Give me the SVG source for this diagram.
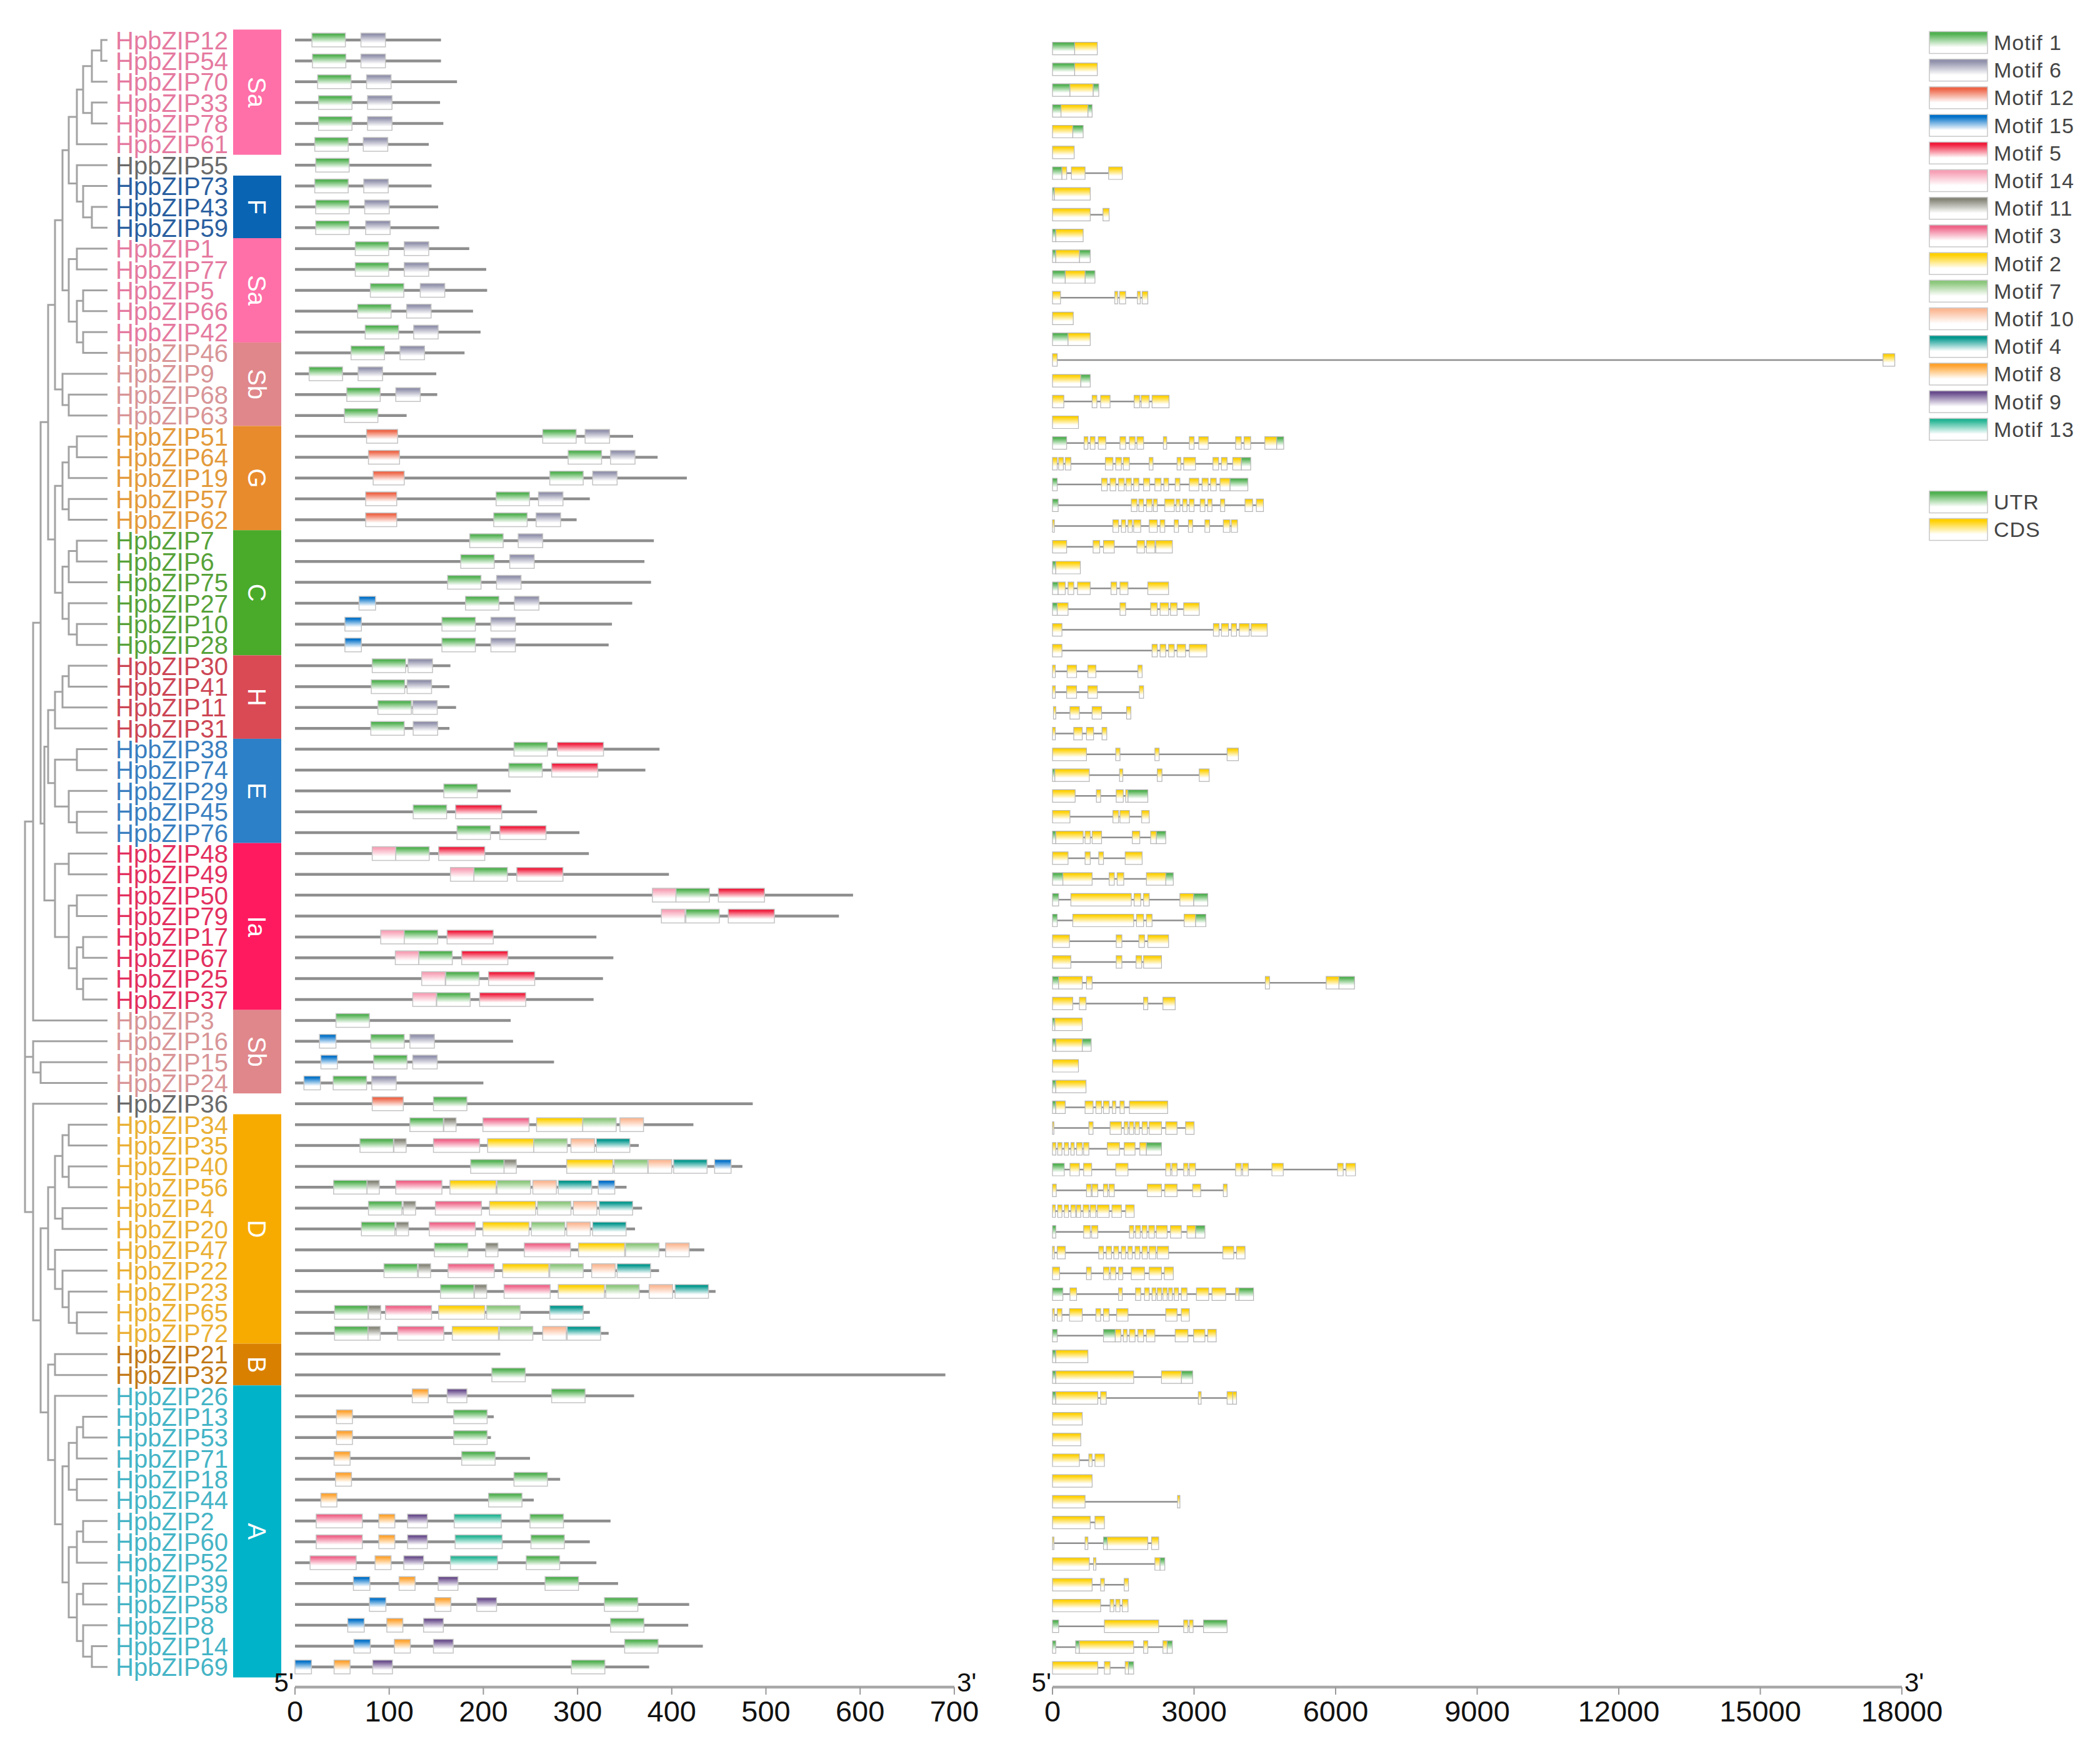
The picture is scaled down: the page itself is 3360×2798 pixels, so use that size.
<svg xmlns="http://www.w3.org/2000/svg" width="3360" height="2798" viewBox="0 0 3360 2798">
<style>
.lb{font-family:"Liberation Sans",Arial,sans-serif;font-size:40px}
.sa{fill:#e57aa0}.f{fill:#2a5f9f}.sb{fill:#d89597}.g{fill:#e39a3c}.c{fill:#57a23a}.h{fill:#cc4655}.e{fill:#3a7fc0}.ia{fill:#e3305f}.d{fill:#eab035}.b{fill:#c27a1a}.a{fill:#45b4c6}.n{fill:#6a6a6a}
.bl{font-family:"Liberation Sans",Arial,sans-serif;font-size:40px;fill:#fff;text-anchor:middle;dominant-baseline:central}
.tr{fill:none;stroke:#a3a3a3;stroke-width:3;vector-effect:non-scaling-stroke}
.bb{fill:none;stroke:#8e8e8e;stroke-width:4.5;vector-effect:non-scaling-stroke}
.mb{stroke:#c4c4c4;stroke-width:1.5;vector-effect:non-scaling-stroke}
.in{fill:none;stroke:#8e8e8e;stroke-width:2.5;vector-effect:non-scaling-stroke}
.U{fill:url(#gU);stroke:#b5b5b5;stroke-width:1.2;vector-effect:non-scaling-stroke}
.C{fill:url(#gC);stroke:#b5b5b5;stroke-width:1.2;vector-effect:non-scaling-stroke}
.ax{stroke:#a8a8a8;stroke-width:4.5;fill:none}
.tk{stroke:#999;stroke-width:2;fill:none}
.an{font-family:"Liberation Sans",Arial,sans-serif;font-size:47px;fill:#111;text-anchor:middle}
.pr{font-family:"Liberation Sans",Arial,sans-serif;font-size:42px;fill:#111}
.lg{font-family:"Liberation Sans",Arial,sans-serif;font-size:34px;fill:#444;letter-spacing:1px}
.sw{stroke:#c8c8c8;stroke-width:1.5}
</style>
<defs>
<linearGradient id="g1" x2="0" y2="1"><stop offset=".1" stop-color="#4fb04f"/><stop offset=".72" stop-color="#fff"/></linearGradient>
<linearGradient id="g6" x2="0" y2="1"><stop offset=".1" stop-color="#9090ab"/><stop offset=".72" stop-color="#fff"/></linearGradient>
<linearGradient id="g12" x2="0" y2="1"><stop offset=".1" stop-color="#ee6446"/><stop offset=".72" stop-color="#fff"/></linearGradient>
<linearGradient id="g15" x2="0" y2="1"><stop offset=".1" stop-color="#0070c8"/><stop offset=".72" stop-color="#fff"/></linearGradient>
<linearGradient id="g5" x2="0" y2="1"><stop offset=".1" stop-color="#f01c3c"/><stop offset=".72" stop-color="#fff"/></linearGradient>
<linearGradient id="g14" x2="0" y2="1"><stop offset=".1" stop-color="#f7a0b5"/><stop offset=".72" stop-color="#fff"/></linearGradient>
<linearGradient id="g11" x2="0" y2="1"><stop offset=".1" stop-color="#858578"/><stop offset=".72" stop-color="#fff"/></linearGradient>
<linearGradient id="g3" x2="0" y2="1"><stop offset=".1" stop-color="#ef6488"/><stop offset=".72" stop-color="#fff"/></linearGradient>
<linearGradient id="g2" x2="0" y2="1"><stop offset=".1" stop-color="#ffd000"/><stop offset=".72" stop-color="#fff"/></linearGradient>
<linearGradient id="g7" x2="0" y2="1"><stop offset=".1" stop-color="#8bc77b"/><stop offset=".72" stop-color="#fff"/></linearGradient>
<linearGradient id="g10" x2="0" y2="1"><stop offset=".1" stop-color="#fbb894"/><stop offset=".72" stop-color="#fff"/></linearGradient>
<linearGradient id="g4" x2="0" y2="1"><stop offset=".1" stop-color="#00968c"/><stop offset=".72" stop-color="#fff"/></linearGradient>
<linearGradient id="g8" x2="0" y2="1"><stop offset=".1" stop-color="#ffa22e"/><stop offset=".72" stop-color="#fff"/></linearGradient>
<linearGradient id="g9" x2="0" y2="1"><stop offset=".1" stop-color="#694d8c"/><stop offset=".72" stop-color="#fff"/></linearGradient>
<linearGradient id="g13" x2="0" y2="1"><stop offset=".1" stop-color="#25b594"/><stop offset=".72" stop-color="#fff"/></linearGradient>
<linearGradient id="gU" x2="0" y2="1"><stop offset=".1" stop-color="#4fb04f"/><stop offset=".72" stop-color="#fff"/></linearGradient>
<linearGradient id="gC" x2="0" y2="1"><stop offset=".1" stop-color="#ffd000"/><stop offset=".72" stop-color="#fff"/></linearGradient>
<rect id="a1" class="mb" y="-11" width="35.5" height="22" fill="url(#g1)"/>
<rect id="a6" class="mb" y="-11" width="26" height="22" fill="url(#g6)"/>
<rect id="a12" class="mb" y="-11" width="33" height="22" fill="url(#g12)"/>
<rect id="a15" class="mb" y="-11" width="17.5" height="22" fill="url(#g15)"/>
<rect id="a5" class="mb" y="-11" width="49" height="22" fill="url(#g5)"/>
<rect id="a14" class="mb" y="-11" width="25" height="22" fill="url(#g14)"/>
<rect id="a11" class="mb" y="-11" width="13" height="22" fill="url(#g11)"/>
<rect id="a3" class="mb" y="-11" width="49" height="22" fill="url(#g3)"/>
<rect id="a2" class="mb" y="-11" width="49" height="22" fill="url(#g2)"/>
<rect id="a7" class="mb" y="-11" width="35.5" height="22" fill="url(#g7)"/>
<rect id="a10" class="mb" y="-11" width="25" height="22" fill="url(#g10)"/>
<rect id="a4" class="mb" y="-11" width="35.5" height="22" fill="url(#g4)"/>
<rect id="a8" class="mb" y="-11" width="17" height="22" fill="url(#g8)"/>
<rect id="a9" class="mb" y="-11" width="21" height="22" fill="url(#g9)"/>
<rect id="a13" class="mb" y="-11" width="50" height="22" fill="url(#g13)"/>
</defs>
<rect width="3360" height="2798" fill="#fff"/>

<g id="connectors">
<g id="tree" transform="translate(0,64) scale(1,33.37)">
<path class="tr" d="M172 0H162V1H172M162 .5H147V2H172M172 3H147V4H172M147 1.25H133V3.5H147M133 2.375H123V5H172M172 8H147V9H172M172 7H133V8.5H147M172 6H123V7.75H133M123 3.6875H110V6.875H123M172 10H123V11H172M172 12H133V13H172M172 14H133V15H172M133 12.5H123V14.5H133M123 10.5H110V13.5H123M110 5.28H100V12H110M172 17H110V18H172M172 16H100V17.5H110M100 8.64H88V16.75H100M172 19H123V20H172M123 19.5H110V21H172M172 22H110V23H172M110 20.25H100V22.5H110M172 24H123V25H172M123 24.5H110V26H172M172 28H123V29H172M172 27H110V28.5H123M110 25.25H100V27.75H110M100 21.375H88V26.5H100M88 12.7H77V23.94H88M172 30H110V31H172M110 30.5H100V32H172M100 31.25H88V33H172M172 34H123V35H172M172 37H123V38H172M172 36H110V37.5H123M123 34.5H88V36.75H110M88 32.125H77V35.625H88M172 39H110V40H172M172 41H123V42H172M172 43H133V44H172M172 45H133V46H172M133 43.5H123V45.5H133M123 41.5H110V44.5H123M110 39.5H88V43H110M77 33.875H71V41.25H88M77 18.32H65V37.56H71M65 27.94H53V47H172M172 49H65V50H172M172 48H53V49.5H65M172 52H110V53H172M172 54H110V55H172M110 52.5H100V54.5H110M172 56H100V57H172M100 53.5H88V56.5H100M172 61H123V62H172M172 60H110V61.5H123M172 59H100V60.75H110M172 58H88V59.875H100M88 55H77V58.94H88M172 63H88V64H172M172 66H133V67H172M133 66.5H123V68H172M172 69H123V70H172M123 67.25H110V69.5H123M172 71H133V72H172M133 71.5H123V73H172M172 74H133V75H172M172 77H147V78H172M172 76H133V77.5H147M133 74.5H123V76.75H133M123 72.25H110V75.625H123M110 68.375H100V73.94H110M172 65H88V71.16H100M88 63.5H77V68.08H88M77 56.97H65V65.79H77M172 51H53V61.38H65M53 37.47H40V56.19H53M40 48.75H53"/>
</g>
</g>

<g id="groups">
<rect x="373" y="47.3" width="77" height="200.3" fill="#ff6fa8"/>
<rect x="373" y="280.9" width="77" height="100.1" fill="#0a64b4"/>
<rect x="373" y="381" width="77" height="166.9" fill="#ff6fa8"/>
<rect x="373" y="547.9" width="77" height="133.5" fill="#e0878b"/>
<rect x="373" y="681.4" width="77" height="166.8" fill="#e88b2d"/>
<rect x="373" y="848.2" width="77" height="200.2" fill="#4aaa2a"/>
<rect x="373" y="1048.4" width="77" height="133.5" fill="#da4a55"/>
<rect x="373" y="1181.9" width="77" height="166.8" fill="#2b80c8"/>
<rect x="373" y="1348.7" width="77" height="267" fill="#ff1a60"/>
<rect x="373" y="1615.7" width="77" height="133.5" fill="#e0878b"/>
<rect x="373" y="1782.5" width="77" height="367.1" fill="#f7ab00"/>
<rect x="373" y="2149.6" width="77" height="66.7" fill="#d98000"/>
<rect x="373" y="2216.3" width="77" height="467.2" fill="#00b3c9"/>
<text class="bl" x="411" y="147.5" transform="rotate(90 411 147.5)">Sa</text>
<text class="bl" x="411" y="331" transform="rotate(90 411 331)">F</text>
<text class="bl" x="411" y="464.4" transform="rotate(90 411 464.4)">Sa</text>
<text class="bl" x="411" y="614.6" transform="rotate(90 411 614.6)">Sb</text>
<text class="bl" x="411" y="764.8" transform="rotate(90 411 764.8)">G</text>
<text class="bl" x="411" y="948.3" transform="rotate(90 411 948.3)">C</text>
<text class="bl" x="411" y="1115.2" transform="rotate(90 411 1115.2)">H</text>
<text class="bl" x="411" y="1265.3" transform="rotate(90 411 1265.3)">E</text>
<text class="bl" x="411" y="1482.2" transform="rotate(90 411 1482.2)">Ia</text>
<text class="bl" x="411" y="1682.4" transform="rotate(90 411 1682.4)">Sb</text>
<text class="bl" x="411" y="1966" transform="rotate(90 411 1966)">D</text>
<text class="bl" x="411" y="2183" transform="rotate(90 411 2183)">B</text>
<text class="bl" x="411" y="2449.9" transform="rotate(90 411 2449.9)">A</text>
</g>

<g id="HpbZIP12"><text class="lb sa" x="185" y="78.5">HpbZIP12</text>
<g transform="translate(472,64) scale(1.507,1)"><path class="bb" d="M0 0H155"/><use href="#a1" x="18"/><use href="#a6" x="70"/></g>
<g transform="translate(1684,77.7) scale(75.5,1)"><path class="in" d="M0 0H.95"/><path class="U" d="M0-10H.47V10H0Z"/><path class="C" d="M.47-10H.95V10H.47Z"/></g></g>

<g id="HpbZIP54"><text class="lb sa" x="185" y="111.9">HpbZIP54</text>
<g transform="translate(472,97.4) scale(1.507,1)"><path class="bb" d="M0 0H155"/><use href="#a1" x="18.5"/><use href="#a6" x="70"/></g>
<g transform="translate(1684,110.9) scale(75.5,1)"><path class="in" d="M0 0H.95"/><path class="U" d="M0-10H.47V10H0Z"/><path class="C" d="M.47-10H.95V10H.47Z"/></g></g>

<g id="HpbZIP70"><text class="lb sa" x="185" y="145.2">HpbZIP70</text>
<g transform="translate(472,130.7) scale(1.507,1)"><path class="bb" d="M0 0H172"/><use href="#a1" x="24"/><use href="#a6" x="76"/></g>
<g transform="translate(1684,144.1) scale(75.5,1)"><path class="in" d="M0 0H.98"/><path class="U" d="M0-10H.37V10H0ZM.86-10H.98V10H.86Z"/><path class="C" d="M.37-10H.86V10H.37Z"/></g></g>

<g id="HpbZIP33"><text class="lb sa" x="185" y="178.6">HpbZIP33</text>
<g transform="translate(472,164.1) scale(1.507,1)"><path class="bb" d="M0 0H154"/><use href="#a1" x="25"/><use href="#a6" x="77"/></g>
<g transform="translate(1684,177.3) scale(75.5,1)"><path class="in" d="M0 0H.84"/><path class="U" d="M0-10H.18V10H0ZM.75-10H.84V10H.75Z"/><path class="C" d="M.18-10H.75V10H.18Z"/></g></g>

<g id="HpbZIP78"><text class="lb sa" x="185" y="212">HpbZIP78</text>
<g transform="translate(472,197.5) scale(1.507,1)"><path class="bb" d="M0 0H157.5"/><use href="#a1" x="25"/><use href="#a6" x="77"/></g>
<g transform="translate(1684,210.5) scale(75.5,1)"><path class="in" d="M0 0H.65"/><path class="C" d="M0-10H.43V10H0Z"/><path class="U" d="M.43-10H.65V10H.43Z"/></g></g>

<g id="HpbZIP61"><text class="lb sa" x="185" y="245.4">HpbZIP61</text>
<g transform="translate(472,230.9) scale(1.507,1)"><path class="bb" d="M0 0H142"/><use href="#a1" x="21"/><use href="#a6" x="72.5"/></g>
<g transform="translate(1684,243.8) scale(75.5,1)"><path class="C" d="M0-10H.46V10H0Z"/></g></g>

<g id="HpbZIP55"><text class="lb n" x="185" y="278.7">HpbZIP55</text>
<g transform="translate(472,264.2) scale(1.507,1)"><path class="bb" d="M0 0H145"/><use href="#a1" x="22"/></g>
<g transform="translate(1684,277) scale(75.5,1)"><path class="in" d="M0 0H1.48"/><path class="U" d="M0-10H.2V10H0Z"/><path class="C" d="M.2-10H.3V10H.2ZM.4-10H.69V10H.4ZM1.19-10H1.48V10H1.19Z"/></g></g>

<g id="HpbZIP73"><text class="lb f" x="185" y="312.1">HpbZIP73</text>
<g transform="translate(472,297.6) scale(1.507,1)"><path class="bb" d="M0 0H145"/><use href="#a1" x="21"/><use href="#a6" x="73"/></g>
<g transform="translate(1684,310.2) scale(75.5,1)"><path class="U" d="M0-10H.04V10H0Z"/><path class="C" d="M.04-10H.8V10H.04Z"/></g></g>

<g id="HpbZIP43"><text class="lb f" x="185" y="345.5">HpbZIP43</text>
<g transform="translate(472,331) scale(1.507,1)"><path class="bb" d="M0 0H152"/><use href="#a1" x="22"/><use href="#a6" x="74"/></g>
<g transform="translate(1684,343.4) scale(75.5,1)"><path class="in" d="M0 0H1.2"/><path class="C" d="M0-10H.8V10H0ZM1.07-10H1.2V10H1.07Z"/></g></g>

<g id="HpbZIP59"><text class="lb f" x="185" y="378.8">HpbZIP59</text>
<g transform="translate(472,364.3) scale(1.507,1)"><path class="bb" d="M0 0H153"/><use href="#a1" x="22"/><use href="#a6" x="75"/></g>
<g transform="translate(1684,376.6) scale(75.5,1)"><path class="U" d="M0-10H.07V10H0Z"/><path class="C" d="M.07-10H.65V10H.07Z"/></g></g>

<g id="HpbZIP1"><text class="lb sa" x="185" y="412.2">HpbZIP1</text>
<g transform="translate(472,397.7) scale(1.507,1)"><path class="bb" d="M0 0H185"/><use href="#a1" x="64"/><use href="#a6" x="116"/></g>
<g transform="translate(1684,409.8) scale(75.5,1)"><path class="U" d="M0-10H.07V10H0ZM.57-10H.8V10H.57Z"/><path class="C" d="M.07-10H.57V10H.07Z"/></g></g>

<g id="HpbZIP77"><text class="lb sa" x="185" y="445.6">HpbZIP77</text>
<g transform="translate(472,431.1) scale(1.507,1)"><path class="bb" d="M0 0H203"/><use href="#a1" x="64"/><use href="#a6" x="116"/></g>
<g transform="translate(1684,443) scale(75.5,1)"><path class="U" d="M0-10H.27V10H0ZM.69-10H.9V10H.69Z"/><path class="C" d="M.27-10H.69V10H.27Z"/></g></g>

<g id="HpbZIP5"><text class="lb sa" x="185" y="478.9">HpbZIP5</text>
<g transform="translate(472,464.4) scale(1.507,1)"><path class="bb" d="M0 0H204"/><use href="#a1" x="80"/><use href="#a6" x="133"/></g>
<g transform="translate(1684,476.2) scale(75.5,1)"><path class="in" d="M0 0H2.02"/><path class="C" d="M0-10H.17V10H0ZM1.32-10H1.38V10H1.32ZM1.42-10H1.55V10H1.42ZM1.8-10H1.86V10H1.8ZM1.9-10H2.02V10H1.9Z"/></g></g>

<g id="HpbZIP66"><text class="lb sa" x="185" y="512.3">HpbZIP66</text>
<g transform="translate(472,497.8) scale(1.507,1)"><path class="bb" d="M0 0H189"/><use href="#a1" x="66.5"/><use href="#a6" x="118.5"/></g>
<g transform="translate(1684,509.4) scale(75.5,1)"><path class="C" d="M0-10H.44V10H0Z"/></g></g>

<g id="HpbZIP42"><text class="lb sa" x="185" y="545.7">HpbZIP42</text>
<g transform="translate(472,531.2) scale(1.507,1)"><path class="bb" d="M0 0H197"/><use href="#a1" x="74.5"/><use href="#a6" x="126"/></g>
<g transform="translate(1684,542.6) scale(75.5,1)"><path class="U" d="M0-10H.33V10H0Z"/><path class="C" d="M.33-10H.8V10H.33Z"/></g></g>

<g id="HpbZIP46"><text class="lb sb" x="185" y="579.1">HpbZIP46</text>
<g transform="translate(472,564.6) scale(1.507,1)"><path class="bb" d="M0 0H180"/><use href="#a1" x="59.5"/><use href="#a6" x="111.5"/></g>
<g transform="translate(1684,575.9) scale(75.5,1)"><path class="in" d="M0 0H17.85"/><path class="C" d="M0-10H.1V10H0ZM17.6-10H17.85V10H17.6Z"/></g></g>

<g id="HpbZIP9"><text class="lb sb" x="185" y="612.4">HpbZIP9</text>
<g transform="translate(472,597.9) scale(1.507,1)"><path class="bb" d="M0 0H150"/><use href="#a1" x="15"/><use href="#a6" x="67"/></g>
<g transform="translate(1684,609.1) scale(75.5,1)"><path class="C" d="M0-10H.6V10H0Z"/><path class="U" d="M.6-10H.8V10H.6Z"/></g></g>

<g id="HpbZIP68"><text class="lb sb" x="185" y="645.8">HpbZIP68</text>
<g transform="translate(472,631.3) scale(1.507,1)"><path class="bb" d="M0 0H151"/><use href="#a1" x="55"/><use href="#a6" x="107"/></g>
<g transform="translate(1684,642.3) scale(75.5,1)"><path class="in" d="M0 0H2.47"/><path class="C" d="M0-10H.24V10H0ZM.84-10H.94V10H.84ZM1.02-10H1.22V10H1.02ZM1.73-10H1.85V10H1.73ZM1.88-10H2.05V10H1.88ZM2.11-10H2.47V10H2.11Z"/></g></g>

<g id="HpbZIP63"><text class="lb sb" x="185" y="679.2">HpbZIP63</text>
<g transform="translate(472,664.7) scale(1.507,1)"><path class="bb" d="M0 0H118.5"/><use href="#a1" x="52.5"/></g>
<g transform="translate(1684,675.5) scale(75.5,1)"><path class="C" d="M0-10H.55V10H0Z"/></g></g>

<g id="HpbZIP51"><text class="lb g" x="185" y="712.5">HpbZIP51</text>
<g transform="translate(472,698) scale(1.507,1)"><path class="bb" d="M0 0H359"/><use href="#a12" x="76"/><use href="#a1" x="263"/><use href="#a6" x="308"/></g>
<g transform="translate(1684,708.7) scale(75.5,1)"><path class="in" d="M0 0H4.9"/><path class="U" d="M0-10H.3V10H0ZM4.75-10H4.9V10H4.75Z"/><path class="C" d="M.67-10H.75V10H.67ZM.8-10H.9V10H.8ZM.97-10H1.13V10H.97ZM1.43-10H1.55V10H1.43ZM1.63-10H1.75V10H1.63ZM1.79-10H1.93V10H1.79ZM2.35-10H2.42V10H2.35ZM2.9-10H3V10H2.9ZM3.1-10H3.3V10H3.1ZM3.88-10H4V10H3.88ZM4.06-10H4.2V10H4.06ZM4.5-10H4.75V10H4.5Z"/></g></g>

<g id="HpbZIP64"><text class="lb g" x="185" y="745.9">HpbZIP64</text>
<g transform="translate(472,731.4) scale(1.507,1)"><path class="bb" d="M0 0H385"/><use href="#a12" x="78"/><use href="#a1" x="290"/><use href="#a6" x="335"/></g>
<g transform="translate(1684,741.9) scale(75.5,1)"><path class="in" d="M0 0H4.2"/><path class="U" d="M4-10H4.2V10H4Z"/><path class="C" d="M0-10H.1V10H0ZM.13-10H.23V10H.13ZM.27-10H.39V10H.27ZM1.12-10H1.28V10H1.12ZM1.34-10H1.46V10H1.34ZM1.5-10H1.63V10H1.5ZM2.05-10H2.13V10H2.05ZM2.64-10H2.72V10H2.64ZM2.78-10H3.03V10H2.78ZM3.4-10H3.52V10H3.4ZM3.58-10H3.7V10H3.58ZM3.82-10H4V10H3.82Z"/></g></g>

<g id="HpbZIP19"><text class="lb g" x="185" y="779.3">HpbZIP19</text>
<g transform="translate(472,764.8) scale(1.507,1)"><path class="bb" d="M0 0H416"/><use href="#a12" x="83"/><use href="#a1" x="270.5"/><use href="#a6" x="316"/></g>
<g transform="translate(1684,775.1) scale(75.5,1)"><path class="in" d="M0 0H4.14"/><path class="U" d="M0-10H.1V10H0ZM3.76-10H4.14V10H3.76Z"/><path class="C" d="M1.04-10H1.16V10H1.04ZM1.22-10H1.34V10H1.22ZM1.4-10H1.52V10H1.4ZM1.56-10H1.67V10H1.56ZM1.72-10H1.83V10H1.72ZM1.93-10H2.06V10H1.93ZM2.17-10H2.3V10H2.17ZM2.36-10H2.46V10H2.36ZM2.6-10H2.7V10H2.6ZM2.9-10H3.1V10H2.9ZM3.17-10H3.3V10H3.17ZM3.35-10H3.47V10H3.35ZM3.55-10H3.76V10H3.55Z"/></g></g>

<g id="HpbZIP57"><text class="lb g" x="185" y="812.6">HpbZIP57</text>
<g transform="translate(472,798.1) scale(1.507,1)"><path class="bb" d="M0 0H313"/><use href="#a12" x="75"/><use href="#a1" x="213.5"/><use href="#a6" x="258.5"/></g>
<g transform="translate(1684,808.3) scale(75.5,1)"><path class="in" d="M0 0H4.47"/><path class="U" d="M0-10H.12V10H0Z"/><path class="C" d="M1.67-10H1.79V10H1.67ZM1.83-10H1.93V10H1.83ZM1.99-10H2.11V10H1.99ZM2.14-10H2.22V10H2.14ZM2.38-10H2.58V10H2.38ZM2.62-10H2.7V10H2.62ZM2.76-10H2.85V10H2.76ZM2.9-10H3V10H2.9ZM3.13-10H3.23V10H3.13ZM3.29-10H3.38V10H3.29ZM3.56-10H3.65V10H3.56ZM4.08-10H4.24V10H4.08ZM4.32-10H4.47V10H4.32Z"/></g></g>

<g id="HpbZIP62"><text class="lb g" x="185" y="846">HpbZIP62</text>
<g transform="translate(472,831.5) scale(1.507,1)"><path class="bb" d="M0 0H299"/><use href="#a12" x="75"/><use href="#a1" x="211"/><use href="#a6" x="256"/></g>
<g transform="translate(1684,841.5) scale(75.5,1)"><path class="in" d="M0 0H3.92"/><path class="C" d="M0-10H.04V10H0ZM1.28-10H1.4V10H1.28ZM1.46-10H1.55V10H1.46ZM1.6-10H1.69V10H1.6ZM1.72-10H1.87V10H1.72ZM2.05-10H2.22V10H2.05ZM2.28-10H2.38V10H2.28ZM2.58-10H2.67V10H2.58ZM2.88-10H2.97V10H2.88ZM3.23-10H3.33V10H3.23ZM3.62-10H3.76V10H3.62ZM3.79-10H3.92V10H3.79Z"/></g></g>

<g id="HpbZIP7"><text class="lb c" x="185" y="879.4">HpbZIP7</text>
<g transform="translate(472,864.9) scale(1.507,1)"><path class="bb" d="M0 0H381"/><use href="#a1" x="185.5"/><use href="#a6" x="237"/></g>
<g transform="translate(1684,874.7) scale(75.5,1)"><path class="in" d="M0 0H2.54"/><path class="C" d="M0-10H.3V10H0ZM.86-10H1V10H.86ZM1.08-10H1.31V10H1.08ZM1.79-10H1.95V10H1.79ZM1.99-10H2.17V10H1.99ZM2.19-10H2.54V10H2.19Z"/></g></g>

<g id="HpbZIP6"><text class="lb c" x="185" y="912.7">HpbZIP6</text>
<g transform="translate(472,898.2) scale(1.507,1)"><path class="bb" d="M0 0H371"/><use href="#a1" x="176"/><use href="#a6" x="228"/></g>
<g transform="translate(1684,908) scale(75.5,1)"><path class="U" d="M0-10H.07V10H0Z"/><path class="C" d="M.07-10H.59V10H.07Z"/></g></g>

<g id="HpbZIP75"><text class="lb c" x="185" y="946.1">HpbZIP75</text>
<g transform="translate(472,931.6) scale(1.507,1)"><path class="bb" d="M0 0H378"/><use href="#a1" x="162"/><use href="#a6" x="214"/></g>
<g transform="translate(1684,941.2) scale(75.5,1)"><path class="in" d="M0 0H2.46"/><path class="U" d="M0-10H.12V10H0Z"/><path class="C" d="M.12-10H.27V10H.12ZM.33-10H.45V10H.33ZM.53-10H.8V10H.53ZM1.24-10H1.36V10H1.24ZM1.43-10H1.6V10H1.43ZM2.02-10H2.46V10H2.02Z"/></g></g>

<g id="HpbZIP27"><text class="lb c" x="185" y="979.5">HpbZIP27</text>
<g transform="translate(472,965) scale(1.507,1)"><path class="bb" d="M0 0H358"/><use href="#a15" x="68"/><use href="#a1" x="181"/><use href="#a6" x="233"/></g>
<g transform="translate(1684,974.4) scale(75.5,1)"><path class="in" d="M0 0H3.11"/><path class="U" d="M0-10H.1V10H0Z"/><path class="C" d="M.1-10H.33V10H.1ZM1.43-10H1.55V10H1.43ZM2.08-10H2.22V10H2.08ZM2.28-10H2.46V10H2.28ZM2.5-10H2.64V10H2.5ZM2.78-10H3.11V10H2.78Z"/></g></g>

<g id="HpbZIP10"><text class="lb c" x="185" y="1012.9">HpbZIP10</text>
<g transform="translate(472,998.4) scale(1.507,1)"><path class="bb" d="M0 0H336.5"/><use href="#a15" x="53"/><use href="#a1" x="156"/><use href="#a6" x="208"/></g>
<g transform="translate(1684,1007.6) scale(75.5,1)"><path class="in" d="M0 0H4.55"/><path class="C" d="M0-10H.2V10H0ZM3.41-10H3.53V10H3.41ZM3.58-10H3.73V10H3.58ZM3.79-10H3.9V10H3.79ZM3.96-10H4.17V10H3.96ZM4.21-10H4.55V10H4.21Z"/></g></g>

<g id="HpbZIP28"><text class="lb c" x="185" y="1046.2">HpbZIP28</text>
<g transform="translate(472,1031.7) scale(1.507,1)"><path class="bb" d="M0 0H333"/><use href="#a15" x="53"/><use href="#a1" x="156"/><use href="#a6" x="208"/></g>
<g transform="translate(1684,1040.8) scale(75.5,1)"><path class="in" d="M0 0H3.27"/><path class="C" d="M0-10H.2V10H0ZM2.11-10H2.22V10H2.11ZM2.28-10H2.4V10H2.28ZM2.46-10H2.58V10H2.46ZM2.64-10H2.82V10H2.64ZM2.9-10H3.27V10H2.9Z"/></g></g>

<g id="HpbZIP30"><text class="lb h" x="185" y="1079.6">HpbZIP30</text>
<g transform="translate(472,1065.1) scale(1.507,1)"><path class="bb" d="M0 0H165"/><use href="#a1" x="82"/><use href="#a6" x="120"/></g>
<g transform="translate(1684,1074) scale(75.5,1)"><path class="in" d="M0 0H1.9"/><path class="C" d="M0-10H.06V10H0ZM.31-10H.51V10H.31ZM.75-10H.92V10H.75ZM1.81-10H1.9V10H1.81Z"/></g></g>

<g id="HpbZIP41"><text class="lb h" x="185" y="1113">HpbZIP41</text>
<g transform="translate(472,1098.5) scale(1.507,1)"><path class="bb" d="M0 0H164"/><use href="#a1" x="81"/><use href="#a6" x="119"/></g>
<g transform="translate(1684,1107.2) scale(75.5,1)"><path class="in" d="M0 0H1.93"/><path class="C" d="M0-10H.06V10H0ZM.3-10H.51V10H.3ZM.75-10H.95V10H.75ZM1.84-10H1.93V10H1.84Z"/></g></g>

<g id="HpbZIP11"><text class="lb h" x="185" y="1146.3">HpbZIP11</text>
<g transform="translate(472,1131.8) scale(1.507,1)"><path class="bb" d="M0 0H171"/><use href="#a1" x="88"/><use href="#a6" x="125"/></g>
<g transform="translate(1684,1140.4) scale(75.5,1)"><path class="in" d="M.02 0H1.66"/><path class="C" d="M.02-10H.07V10H.02ZM.37-10H.57V10H.37ZM.84-10H1.04V10H.84ZM1.57-10H1.66V10H1.57Z"/></g></g>

<g id="HpbZIP31"><text class="lb h" x="185" y="1179.7">HpbZIP31</text>
<g transform="translate(472,1165.2) scale(1.507,1)"><path class="bb" d="M0 0H164"/><use href="#a1" x="80.5"/><use href="#a6" x="125.5"/></g>
<g transform="translate(1684,1173.6) scale(75.5,1)"><path class="in" d="M0 0H1.15"/><path class="C" d="M0-10H.06V10H0ZM.45-10H.63V10H.45ZM.72-10H.87V10H.72ZM1.05-10H1.15V10H1.05Z"/></g></g>

<g id="HpbZIP38"><text class="lb e" x="185" y="1213.1">HpbZIP38</text>
<g transform="translate(472,1198.6) scale(1.507,1)"><path class="bb" d="M0 0H387"/><use href="#a1" x="232.5"/><use href="#a5" x="278.5"/></g>
<g transform="translate(1684,1206.8) scale(75.5,1)"><path class="in" d="M0 0H3.94"/><path class="C" d="M0-10H.72V10H0ZM1.34-10H1.43V10H1.34ZM2.17-10H2.26V10H2.17ZM3.7-10H3.94V10H3.7Z"/></g></g>

<g id="HpbZIP74"><text class="lb e" x="185" y="1246.4">HpbZIP74</text>
<g transform="translate(472,1231.9) scale(1.507,1)"><path class="bb" d="M0 0H372"/><use href="#a1" x="227"/><use href="#a5" x="272.5"/></g>
<g transform="translate(1684,1240.1) scale(75.5,1)"><path class="in" d="M0 0H3.32"/><path class="U" d="M0-10H.05V10H0Z"/><path class="C" d="M.05-10H.78V10H.05ZM1.42-10H1.49V10H1.42ZM2.22-10H2.32V10H2.22ZM3.11-10H3.32V10H3.11Z"/></g></g>

<g id="HpbZIP29"><text class="lb e" x="185" y="1279.8">HpbZIP29</text>
<g transform="translate(472,1265.3) scale(1.507,1)"><path class="bb" d="M0 0H229"/><use href="#a1" x="158"/></g>
<g transform="translate(1684,1273.3) scale(75.5,1)"><path class="in" d="M0 0H2.02"/><path class="C" d="M0-10H.48V10H0ZM.93-10H1.02V10H.93ZM1.35-10H1.5V10H1.35ZM1.55-10H1.6V10H1.55Z"/><path class="U" d="M1.6-10H2.02V10H1.6Z"/></g></g>

<g id="HpbZIP45"><text class="lb e" x="185" y="1313.2">HpbZIP45</text>
<g transform="translate(472,1298.7) scale(1.507,1)"><path class="bb" d="M0 0H257"/><use href="#a1" x="125.5"/><use href="#a5" x="170.5"/></g>
<g transform="translate(1684,1306.5) scale(75.5,1)"><path class="in" d="M0 0H2.05"/><path class="C" d="M0-10H.37V10H0ZM1.28-10H1.4V10H1.28ZM1.43-10H1.63V10H1.43ZM1.89-10H2.05V10H1.89Z"/></g></g>

<g id="HpbZIP76"><text class="lb e" x="185" y="1346.5">HpbZIP76</text>
<g transform="translate(472,1332) scale(1.507,1)"><path class="bb" d="M0 0H302"/><use href="#a1" x="172"/><use href="#a5" x="217.5"/></g>
<g transform="translate(1684,1339.7) scale(75.5,1)"><path class="in" d="M0 0H2.4"/><path class="U" d="M0-10H.07V10H0ZM2.2-10H2.4V10H2.2Z"/><path class="C" d="M.07-10H.65V10H.07ZM.69-10H.8V10H.69ZM.84-10H1.04V10H.84ZM1.69-10H1.85V10H1.69ZM2.08-10H2.2V10H2.08Z"/></g></g>

<g id="HpbZIP48"><text class="lb ia" x="185" y="1379.9">HpbZIP48</text>
<g transform="translate(472,1365.4) scale(1.507,1)"><path class="bb" d="M0 0H312"/><use href="#a14" x="82"/><use href="#a1" x="107"/><use href="#a5" x="152.5"/></g>
<g transform="translate(1684,1372.9) scale(75.5,1)"><path class="in" d="M0 0H1.9"/><path class="C" d="M0-10H.33V10H0ZM.69-10H.8V10H.69ZM.98-10H1.08V10H.98ZM1.54-10H1.9V10H1.54Z"/></g></g>

<g id="HpbZIP49"><text class="lb ia" x="185" y="1413.3">HpbZIP49</text>
<g transform="translate(472,1398.8) scale(1.507,1)"><path class="bb" d="M0 0H397"/><use href="#a14" x="165"/><use href="#a1" x="190"/><use href="#a5" x="235.5"/></g>
<g transform="translate(1684,1406.1) scale(75.5,1)"><path class="in" d="M0 0H2.56"/><path class="U" d="M0-10H.22V10H0ZM2.4-10H2.56V10H2.4Z"/><path class="C" d="M.22-10H.84V10H.22ZM1.2-10H1.31V10H1.2ZM1.37-10H1.51V10H1.37ZM1.99-10H2.4V10H1.99Z"/></g></g>

<g id="HpbZIP50"><text class="lb ia" x="185" y="1446.6">HpbZIP50</text>
<g transform="translate(472,1432.1) scale(1.507,1)"><path class="bb" d="M0 0H592.5"/><use href="#a14" x="379.5"/><use href="#a1" x="404.5"/><use href="#a5" x="449.5"/></g>
<g transform="translate(1684,1439.3) scale(75.5,1)"><path class="in" d="M0 0H3.29"/><path class="U" d="M0-10H.13V10H0ZM2.99-10H3.29V10H2.99Z"/><path class="C" d="M.39-10H1.67V10H.39ZM1.73-10H1.87V10H1.73ZM1.93-10H2.05V10H1.93ZM2.7-10H2.99V10H2.7Z"/></g></g>

<g id="HpbZIP79"><text class="lb ia" x="185" y="1480">HpbZIP79</text>
<g transform="translate(472,1465.5) scale(1.507,1)"><path class="bb" d="M0 0H577.5"/><use href="#a14" x="389"/><use href="#a1" x="415"/><use href="#a5" x="460"/></g>
<g transform="translate(1684,1472.5) scale(75.5,1)"><path class="in" d="M0 0H3.25"/><path class="U" d="M0-10H.1V10H0ZM3.03-10H3.25V10H3.03Z"/><path class="C" d="M.43-10H1.72V10H.43ZM1.78-10H1.93V10H1.78ZM1.99-10H2.11V10H1.99ZM2.79-10H3.03V10H2.79Z"/></g></g>

<g id="HpbZIP17"><text class="lb ia" x="185" y="1513.4">HpbZIP17</text>
<g transform="translate(472,1498.9) scale(1.507,1)"><path class="bb" d="M0 0H320"/><use href="#a14" x="91"/><use href="#a1" x="116"/><use href="#a5" x="161.5"/></g>
<g transform="translate(1684,1505.7) scale(75.5,1)"><path class="in" d="M0 0H2.46"/><path class="C" d="M0-10H.36V10H0ZM1.35-10H1.47V10H1.35ZM1.83-10H1.95V10H1.83ZM2.02-10H2.46V10H2.02Z"/></g></g>

<g id="HpbZIP67"><text class="lb ia" x="185" y="1546.8">HpbZIP67</text>
<g transform="translate(472,1532.3) scale(1.507,1)"><path class="bb" d="M0 0H338"/><use href="#a14" x="106.5"/><use href="#a1" x="131.5"/><use href="#a5" x="177"/></g>
<g transform="translate(1684,1538.9) scale(75.5,1)"><path class="in" d="M0 0H2.31"/><path class="C" d="M0-10H.39V10H0ZM1.35-10H1.47V10H1.35ZM1.77-10H1.89V10H1.77ZM1.93-10H2.31V10H1.93Z"/></g></g>

<g id="HpbZIP25"><text class="lb ia" x="185" y="1580.1">HpbZIP25</text>
<g transform="translate(472,1565.6) scale(1.507,1)"><path class="bb" d="M0 0H327"/><use href="#a14" x="134.5"/><use href="#a1" x="160"/><use href="#a5" x="205.5"/></g>
<g transform="translate(1684,1572.2) scale(75.5,1)"><path class="in" d="M0 0H6.4"/><path class="U" d="M0-10H.13V10H0ZM6.07-10H6.4V10H6.07Z"/><path class="C" d="M.13-10H.63V10H.13ZM.72-10H.84V10H.72ZM4.51-10H4.6V10H4.51ZM5.8-10H6.07V10H5.8Z"/></g></g>

<g id="HpbZIP37"><text class="lb ia" x="185" y="1613.5">HpbZIP37</text>
<g transform="translate(472,1599) scale(1.507,1)"><path class="bb" d="M0 0H317"/><use href="#a14" x="125"/><use href="#a1" x="150.5"/><use href="#a5" x="196"/></g>
<g transform="translate(1684,1605.4) scale(75.5,1)"><path class="in" d="M0 0H2.6"/><path class="C" d="M0-10H.43V10H0ZM.57-10H.71V10H.57ZM1.93-10H2.02V10H1.93ZM2.34-10H2.6V10H2.34Z"/></g></g>

<g id="HpbZIP3"><text class="lb sb" x="185" y="1646.9">HpbZIP3</text>
<g transform="translate(472,1632.4) scale(1.507,1)"><path class="bb" d="M0 0H229"/><use href="#a1" x="43.5"/></g>
<g transform="translate(1684,1638.6) scale(75.5,1)"><path class="U" d="M0-10H.05V10H0Z"/><path class="C" d="M.05-10H.63V10H.05Z"/></g></g>

<g id="HpbZIP16"><text class="lb sb" x="185" y="1680.2">HpbZIP16</text>
<g transform="translate(472,1665.7) scale(1.507,1)"><path class="bb" d="M0 0H231.5"/><use href="#a15" x="26"/><use href="#a1" x="80.5"/><use href="#a6" x="122"/></g>
<g transform="translate(1684,1671.8) scale(75.5,1)"><path class="U" d="M0-10H.07V10H0ZM.63-10H.82V10H.63Z"/><path class="C" d="M.07-10H.63V10H.07Z"/></g></g>

<g id="HpbZIP15"><text class="lb sb" x="185" y="1713.6">HpbZIP15</text>
<g transform="translate(472,1699.1) scale(1.507,1)"><path class="bb" d="M0 0H275"/><use href="#a15" x="27.5"/><use href="#a1" x="83.5"/><use href="#a6" x="125"/></g>
<g transform="translate(1684,1705) scale(75.5,1)"><path class="C" d="M0-10H.55V10H0Z"/></g></g>

<g id="HpbZIP24"><text class="lb sb" x="185" y="1747">HpbZIP24</text>
<g transform="translate(472,1732.5) scale(1.507,1)"><path class="bb" d="M0 0H200"/><use href="#a15" x="9.5"/><use href="#a1" x="40.5"/><use href="#a6" x="81.5"/></g>
<g transform="translate(1684,1738.2) scale(75.5,1)"><path class="U" d="M0-10H.07V10H0Z"/><path class="C" d="M.07-10H.71V10H.07Z"/></g></g>

<g id="HpbZIP36"><text class="lb n" x="185" y="1780.3">HpbZIP36</text>
<g transform="translate(472,1765.8) scale(1.507,1)"><path class="bb" d="M0 0H486"/><use href="#a12" x="82"/><use href="#a1" x="147"/></g>
<g transform="translate(1684,1771.4) scale(75.5,1)"><path class="in" d="M0 0H2.44"/><path class="U" d="M0-10H.07V10H0Z"/><path class="C" d="M.07-10H.27V10H.07ZM.69-10H.86V10H.69ZM.92-10H1.04V10H.92ZM1.08-10H1.2V10H1.08ZM1.27-10H1.34V10H1.27ZM1.43-10H1.52V10H1.43ZM1.63-10H2.44V10H1.63Z"/></g></g>

<g id="HpbZIP34"><text class="lb d" x="185" y="1813.7">HpbZIP34</text>
<g transform="translate(472,1799.2) scale(1.507,1)"><path class="bb" d="M0 0H423"/><use href="#a1" x="122"/><use href="#a11" x="158"/><use href="#a3" x="199.5"/><use href="#a2" x="256.5"/><use href="#a7" x="305.5"/><use href="#a10" x="345"/></g>
<g transform="translate(1684,1804.6) scale(75.5,1)"><path class="in" d="M0 0H3"/><path class="C" d="M0-10H.03V10H0ZM.77-10H.86V10H.77ZM1.22-10H1.46V10H1.22ZM1.52-10H1.6V10H1.52ZM1.63-10H1.72V10H1.63ZM1.75-10H1.84V10H1.75ZM1.9-10H2.01V10H1.9ZM2.05-10H2.31V10H2.05ZM2.4-10H2.64V10H2.4ZM2.82-10H3V10H2.82Z"/></g></g>

<g id="HpbZIP35"><text class="lb d" x="185" y="1847.1">HpbZIP35</text>
<g transform="translate(472,1832.6) scale(1.507,1)"><path class="bb" d="M0 0H365"/><use href="#a1" x="69"/><use href="#a11" x="105"/><use href="#a3" x="147"/><use href="#a2" x="204.5"/><use href="#a7" x="253.5"/><use href="#a10" x="293"/><use href="#a4" x="320"/></g>
<g transform="translate(1684,1837.8) scale(75.5,1)"><path class="in" d="M0 0H2.31"/><path class="C" d="M0-10H.07V10H0ZM.11-10H.2V10H.11ZM.25-10H.34V10H.25ZM.39-10H.46V10H.39ZM.51-10H.63V10H.51ZM.66-10H.77V10H.66ZM1.16-10H1.42V10H1.16ZM1.52-10H1.75V10H1.52ZM1.85-10H1.99V10H1.85Z"/><path class="U" d="M1.99-10H2.31V10H1.99Z"/></g></g>

<g id="HpbZIP40"><text class="lb d" x="185" y="1880.4">HpbZIP40</text>
<g transform="translate(472,1865.9) scale(1.507,1)"><path class="bb" d="M0 0H475"/><use href="#a1" x="186.5"/><use href="#a11" x="222"/><use href="#a2" x="288.5"/><use href="#a7" x="339"/><use href="#a10" x="375"/><use href="#a4" x="402"/><use href="#a15" x="445.5"/></g>
<g transform="translate(1684,1871) scale(75.5,1)"><path class="in" d="M0 0H6.42"/><path class="U" d="M0-10H.25V10H0Z"/><path class="C" d="M.37-10H.57V10H.37ZM.66-10H.83V10H.66ZM1.34-10H1.6V10H1.34ZM2.4-10H2.5V10H2.4ZM2.53-10H2.64V10H2.53ZM2.78-10H2.87V10H2.78ZM2.9-10H3.03V10H2.9ZM3.88-10H4V10H3.88ZM4.03-10H4.15V10H4.03ZM4.65-10H4.89V10H4.65ZM6.04-10H6.16V10H6.04ZM6.22-10H6.42V10H6.22Z"/></g></g>

<g id="HpbZIP56"><text class="lb d" x="185" y="1913.8">HpbZIP56</text>
<g transform="translate(472,1899.3) scale(1.507,1)"><path class="bb" d="M0 0H352"/><use href="#a1" x="41"/><use href="#a11" x="76.5"/><use href="#a3" x="107"/><use href="#a2" x="164.5"/><use href="#a7" x="214.5"/><use href="#a10" x="252.5"/><use href="#a4" x="279.5"/><use href="#a15" x="322"/></g>
<g transform="translate(1684,1904.3) scale(75.5,1)"><path class="in" d="M0 0H3.7"/><path class="C" d="M0-10H.08V10H0ZM.72-10H.82V10H.72ZM.84-10H.96V10H.84ZM1.08-10H1.17V10H1.08ZM1.2-10H1.31V10H1.2ZM2.01-10H2.31V10H2.01ZM2.38-10H2.64V10H2.38ZM2.97-10H3.14V10H2.97ZM3.62-10H3.7V10H3.62Z"/></g></g>

<g id="HpbZIP4"><text class="lb d" x="185" y="1947.2">HpbZIP4</text>
<g transform="translate(472,1932.7) scale(1.507,1)"><path class="bb" d="M0 0H368.5"/><use href="#a1" x="78"/><use href="#a11" x="115"/><use href="#a3" x="149"/><use href="#a2" x="206.5"/><use href="#a7" x="257.5"/><use href="#a10" x="295.5"/><use href="#a4" x="323"/></g>
<g transform="translate(1684,1937.5) scale(75.5,1)"><path class="in" d="M0 0H1.73"/><path class="C" d="M0-10H.06V10H0ZM.11-10H.2V10H.11ZM.25-10H.34V10H.25ZM.39-10H.49V10H.39ZM.51-10H.6V10H.51ZM.65-10H.77V10H.65ZM.8-10H.92V10H.8ZM.95-10H1.2V10H.95ZM1.26-10H1.46V10H1.26ZM1.55-10H1.73V10H1.55Z"/></g></g>

<g id="HpbZIP20"><text class="lb d" x="185" y="1980.5">HpbZIP20</text>
<g transform="translate(472,1966) scale(1.507,1)"><path class="bb" d="M0 0H361"/><use href="#a1" x="70.5"/><use href="#a11" x="107.5"/><use href="#a3" x="142.5"/><use href="#a2" x="199.5"/><use href="#a7" x="251"/><use href="#a10" x="288.5"/><use href="#a4" x="316"/></g>
<g transform="translate(1684,1970.7) scale(75.5,1)"><path class="in" d="M0 0H3.23"/><path class="U" d="M0-10H.07V10H0ZM3.03-10H3.23V10H3.03Z"/><path class="C" d="M.66-10H.8V10H.66ZM.83-10H.96V10H.83ZM1.63-10H1.72V10H1.63ZM1.76-10H1.86V10H1.76ZM1.9-10H2V10H1.9ZM2.04-10H2.16V10H2.04ZM2.2-10H2.43V10H2.2ZM2.5-10H2.73V10H2.5ZM2.85-10H3.03V10H2.85Z"/></g></g>

<g id="HpbZIP47"><text class="lb d" x="185" y="2013.9">HpbZIP47</text>
<g transform="translate(472,1999.4) scale(1.507,1)"><path class="bb" d="M0 0H434.5"/><use href="#a1" x="148"/><use href="#a11" x="202.5"/><use href="#a3" x="243.5"/><use href="#a2" x="301"/><use href="#a7" x="351"/><use href="#a10" x="393.5"/></g>
<g transform="translate(1684,2003.9) scale(75.5,1)"><path class="in" d="M0 0H4.08"/><path class="C" d="M0-10H.04V10H0ZM.1-10H.27V10H.1ZM.98-10H1.08V10H.98ZM1.14-10H1.25V10H1.14ZM1.3-10H1.4V10H1.3ZM1.46-10H1.55V10H1.46ZM1.6-10H1.69V10H1.6ZM1.75-10H1.85V10H1.75ZM1.9-10H2.01V10H1.9ZM2.05-10H2.19V10H2.05ZM2.22-10H2.46V10H2.22ZM3.61-10H3.84V10H3.61ZM3.9-10H4.08V10H3.9Z"/></g></g>

<g id="HpbZIP22"><text class="lb d" x="185" y="2047.3">HpbZIP22</text>
<g transform="translate(472,2032.8) scale(1.507,1)"><path class="bb" d="M0 0H386.5"/><use href="#a1" x="94.5"/><use href="#a11" x="131"/><use href="#a3" x="162.5"/><use href="#a2" x="220.5"/><use href="#a7" x="270.5"/><use href="#a10" x="315"/><use href="#a4" x="342"/></g>
<g transform="translate(1684,2037.1) scale(75.5,1)"><path class="in" d="M0 0H2.56"/><path class="C" d="M0-10H.15V10H0ZM.72-10H.82V10H.72ZM1.08-10H1.2V10H1.08ZM1.23-10H1.34V10H1.23ZM1.4-10H1.49V10H1.4ZM1.67-10H1.95V10H1.67ZM2.05-10H2.31V10H2.05ZM2.37-10H2.56V10H2.37Z"/></g></g>

<g id="HpbZIP23"><text class="lb d" x="185" y="2080.6">HpbZIP23</text>
<g transform="translate(472,2066.1) scale(1.507,1)"><path class="bb" d="M0 0H446.5"/><use href="#a1" x="154.5"/><use href="#a11" x="190.5"/><use href="#a3" x="222"/><use href="#a2" x="279.5"/><use href="#a7" x="330"/><use href="#a10" x="376"/><use href="#a4" x="403.5"/></g>
<g transform="translate(1684,2070.3) scale(75.5,1)"><path class="in" d="M0 0H4.26"/><path class="U" d="M0-10H.22V10H0ZM3.95-10H4.26V10H3.95Z"/><path class="C" d="M.37-10H.51V10H.37ZM1.4-10H1.48V10H1.4ZM1.76-10H1.87V10H1.76ZM1.95-10H2.05V10H1.95ZM2.11-10H2.19V10H2.11ZM2.22-10H2.31V10H2.22ZM2.34-10H2.43V10H2.34ZM2.46-10H2.54V10H2.46ZM2.58-10H2.67V10H2.58ZM2.73-10H2.85V10H2.73ZM3.05-10H3.31V10H3.05ZM3.38-10H3.67V10H3.38ZM3.88-10H3.95V10H3.88Z"/></g></g>

<g id="HpbZIP65"><text class="lb d" x="185" y="2114">HpbZIP65</text>
<g transform="translate(472,2099.5) scale(1.507,1)"><path class="bb" d="M0 0H313"/><use href="#a1" x="42"/><use href="#a11" x="78"/><use href="#a3" x="96"/><use href="#a2" x="152.5"/><use href="#a7" x="203.5"/><use href="#a4" x="270.5"/></g>
<g transform="translate(1684,2103.5) scale(75.5,1)"><path class="in" d="M0 0H2.9"/><path class="C" d="M0-10H.04V10H0ZM.1-10H.2V10H.1ZM.36-10H.63V10H.36ZM.92-10H1.02V10H.92ZM1.08-10H1.2V10H1.08ZM1.36-10H1.6V10H1.36ZM2.4-10H2.64V10H2.4ZM2.73-10H2.9V10H2.73Z"/></g></g>

<g id="HpbZIP72"><text class="lb d" x="185" y="2147.4">HpbZIP72</text>
<g transform="translate(472,2132.9) scale(1.507,1)"><path class="bb" d="M0 0H333"/><use href="#a1" x="42"/><use href="#a11" x="77.5"/><use href="#a3" x="109"/><use href="#a2" x="167"/><use href="#a7" x="217"/><use href="#a10" x="263"/><use href="#a4" x="289"/></g>
<g transform="translate(1684,2136.7) scale(75.5,1)"><path class="in" d="M0 0H3.47"/><path class="U" d="M0-10H.1V10H0ZM1.08-10H1.33V10H1.08Z"/><path class="C" d="M1.33-10H1.45V10H1.33ZM1.5-10H1.58V10H1.5ZM1.63-10H1.75V10H1.63ZM1.81-10H1.93V10H1.81ZM1.99-10H2.17V10H1.99ZM2.6-10H2.87V10H2.6ZM2.99-10H3.23V10H2.99ZM3.29-10H3.47V10H3.29Z"/></g></g>

<g id="HpbZIP21"><text class="lb b" x="185" y="2180.8">HpbZIP21</text>
<g transform="translate(472,2166.3) scale(1.507,1)"><path class="bb" d="M0 0H218"/></g>
<g transform="translate(1684,2169.9) scale(75.5,1)"><path class="U" d="M0-10H.07V10H0Z"/><path class="C" d="M.07-10H.75V10H.07Z"/></g></g>

<g id="HpbZIP32"><text class="lb b" x="185" y="2214.1">HpbZIP32</text>
<g transform="translate(472,2199.6) scale(1.507,1)"><path class="bb" d="M0 0H690.5"/><use href="#a1" x="209"/></g>
<g transform="translate(1684,2203.1) scale(75.5,1)"><path class="in" d="M0 0H2.97"/><path class="U" d="M0-10H.07V10H0ZM2.73-10H2.97V10H2.73Z"/><path class="C" d="M.07-10H1.72V10H.07ZM2.31-10H2.73V10H2.31Z"/></g></g>

<g id="HpbZIP26"><text class="lb a" x="185" y="2247.5">HpbZIP26</text>
<g transform="translate(472,2233) scale(1.507,1)"><path class="bb" d="M0 0H360"/><use href="#a8" x="124.5"/><use href="#a9" x="161.5"/><use href="#a1" x="272.5"/></g>
<g transform="translate(1684,2236.4) scale(75.5,1)"><path class="in" d="M0 0H3.9"/><path class="U" d="M0-10H.07V10H0Z"/><path class="C" d="M.07-10H.96V10H.07ZM1.02-10H1.14V10H1.02ZM3.09-10H3.15V10H3.09ZM3.7-10H3.82V10H3.7ZM3.82-10H3.9V10H3.82Z"/></g></g>

<g id="HpbZIP13"><text class="lb a" x="185" y="2280.9">HpbZIP13</text>
<g transform="translate(472,2266.4) scale(1.507,1)"><path class="bb" d="M0 0H211"/><use href="#a8" x="44"/><use href="#a1" x="168.5"/></g>
<g transform="translate(1684,2269.6) scale(75.5,1)"><path class="C" d="M0-10H.63V10H0Z"/></g></g>

<g id="HpbZIP53"><text class="lb a" x="185" y="2314.2">HpbZIP53</text>
<g transform="translate(472,2299.7) scale(1.507,1)"><path class="bb" d="M0 0H208"/><use href="#a8" x="44"/><use href="#a1" x="168.5"/></g>
<g transform="translate(1684,2302.8) scale(75.5,1)"><path class="C" d="M0-10H.6V10H0Z"/></g></g>

<g id="HpbZIP71"><text class="lb a" x="185" y="2347.6">HpbZIP71</text>
<g transform="translate(472,2333.1) scale(1.507,1)"><path class="bb" d="M0 0H249.5"/><use href="#a8" x="41.5"/><use href="#a1" x="177"/></g>
<g transform="translate(1684,2336) scale(75.5,1)"><path class="in" d="M0 0H1.1"/><path class="C" d="M0-10H.57V10H0ZM.77-10H.84V10H.77ZM.9-10H1.1V10H.9Z"/></g></g>

<g id="HpbZIP18"><text class="lb a" x="185" y="2381">HpbZIP18</text>
<g transform="translate(472,2366.5) scale(1.507,1)"><path class="bb" d="M0 0H281.5"/><use href="#a8" x="43"/><use href="#a1" x="232.5"/></g>
<g transform="translate(1684,2369.2) scale(75.5,1)"><path class="C" d="M0-10H.84V10H0Z"/></g></g>

<g id="HpbZIP44"><text class="lb a" x="185" y="2414.3">HpbZIP44</text>
<g transform="translate(472,2399.8) scale(1.507,1)"><path class="bb" d="M0 0H253.5"/><use href="#a8" x="27.5"/><use href="#a1" x="205.5"/></g>
<g transform="translate(1684,2402.4) scale(75.5,1)"><path class="in" d="M0 0H2.7"/><path class="C" d="M0-10H.69V10H0ZM2.65-10H2.7V10H2.65Z"/></g></g>

<g id="HpbZIP2"><text class="lb a" x="185" y="2447.7">HpbZIP2</text>
<g transform="translate(472,2433.2) scale(1.507,1)"><path class="bb" d="M0 0H335"/><use href="#a3" x="22.5"/><use href="#a8" x="89"/><use href="#a9" x="119.5"/><use href="#a13" x="169"/><use href="#a1" x="249.5"/></g>
<g transform="translate(1684,2435.6) scale(75.5,1)"><path class="in" d="M0 0H1.1"/><path class="C" d="M0-10H.8V10H0ZM.9-10H1.1V10H.9Z"/></g></g>

<g id="HpbZIP60"><text class="lb a" x="185" y="2481.1">HpbZIP60</text>
<g transform="translate(472,2466.6) scale(1.507,1)"><path class="bb" d="M0 0H313"/><use href="#a3" x="22.5"/><use href="#a8" x="89"/><use href="#a9" x="119.5"/><use href="#a13" x="170"/><use href="#a1" x="250.5"/></g>
<g transform="translate(1684,2468.8) scale(75.5,1)"><path class="in" d="M0 0H2.25"/><path class="U" d="M1.08-10H1.16V10H1.08Z"/><path class="C" d="M0-10H.03V10H0ZM.69-10H.75V10H.69ZM1.16-10H2.02V10H1.16ZM2.1-10H2.25V10H2.1Z"/></g></g>

<g id="HpbZIP52"><text class="lb a" x="185" y="2514.4">HpbZIP52</text>
<g transform="translate(472,2499.9) scale(1.507,1)"><path class="bb" d="M0 0H320"/><use href="#a3" x="16"/><use href="#a8" x="85"/><use href="#a9" x="115.5"/><use href="#a13" x="165"/><use href="#a1" x="245.5"/></g>
<g transform="translate(1684,2502) scale(75.5,1)"><path class="in" d="M0 0H2.38"/><path class="C" d="M0-10H.78V10H0ZM.87-10H.92V10H.87ZM2.17-10H2.28V10H2.17Z"/><path class="U" d="M2.28-10H2.38V10H2.28Z"/></g></g>

<g id="HpbZIP39"><text class="lb a" x="185" y="2547.8">HpbZIP39</text>
<g transform="translate(472,2533.3) scale(1.507,1)"><path class="bb" d="M0 0H343"/><use href="#a15" x="62"/><use href="#a8" x="110.5"/><use href="#a9" x="152"/><use href="#a1" x="265.5"/></g>
<g transform="translate(1684,2535.2) scale(75.5,1)"><path class="in" d="M0 0H1.61"/><path class="C" d="M0-10H.84V10H0ZM1.02-10H1.1V10H1.02ZM1.52-10H1.61V10H1.52Z"/></g></g>

<g id="HpbZIP58"><text class="lb a" x="185" y="2581.2">HpbZIP58</text>
<g transform="translate(472,2566.7) scale(1.507,1)"><path class="bb" d="M0 0H418.5"/><use href="#a15" x="79"/><use href="#a8" x="148.5"/><use href="#a9" x="193"/><use href="#a1" x="328.5"/></g>
<g transform="translate(1684,2568.5) scale(75.5,1)"><path class="in" d="M0 0H1.6"/><path class="C" d="M0-10H1.02V10H0ZM1.22-10H1.3V10H1.22ZM1.34-10H1.43V10H1.34ZM1.48-10H1.6V10H1.48Z"/></g></g>

<g id="HpbZIP8"><text class="lb a" x="185" y="2614.5">HpbZIP8</text>
<g transform="translate(472,2600) scale(1.507,1)"><path class="bb" d="M0 0H417.5"/><use href="#a15" x="56"/><use href="#a8" x="97.5"/><use href="#a9" x="136.5"/><use href="#a1" x="335"/></g>
<g transform="translate(1684,2601.7) scale(75.5,1)"><path class="in" d="M0 0H3.7"/><path class="U" d="M0-10H.13V10H0ZM3.2-10H3.7V10H3.2Z"/><path class="C" d="M1.1-10H2.25V10H1.1ZM2.78-10H2.87V10H2.78ZM2.9-10H2.98V10H2.9Z"/></g></g>

<g id="HpbZIP14"><text class="lb a" x="185" y="2647.9">HpbZIP14</text>
<g transform="translate(472,2633.4) scale(1.507,1)"><path class="bb" d="M0 0H433"/><use href="#a15" x="62.5"/><use href="#a8" x="105.5"/><use href="#a9" x="147"/><use href="#a1" x="350"/></g>
<g transform="translate(1684,2634.9) scale(75.5,1)"><path class="in" d="M0 0H2.54"/><path class="U" d="M0-10H.07V10H0ZM.49-10H.57V10H.49ZM2.43-10H2.54V10H2.43Z"/><path class="C" d="M.57-10H1.72V10H.57ZM1.93-10H2.02V10H1.93ZM2.34-10H2.43V10H2.34Z"/></g></g>

<g id="HpbZIP69"><text class="lb a" x="185" y="2681.3">HpbZIP69</text>
<g transform="translate(472,2666.8) scale(1.507,1)"><path class="bb" d="M0 0H376"/><use href="#a15" x="0"/><use href="#a8" x="41.5"/><use href="#a9" x="82.5"/><use href="#a1" x="293.5"/></g>
<g transform="translate(1684,2668.1) scale(75.5,1)"><path class="in" d="M0 0H1.72"/><path class="C" d="M0-10H.96V10H0ZM1.1-10H1.22V10H1.1ZM1.54-10H1.61V10H1.54Z"/><path class="U" d="M1.61-10H1.72V10H1.61Z"/></g></g>

<g id="axis-motif">
<path class="ax" d="M472 2699H1527"/>
<path class="tk" d="M472 2699V2711M622.7 2699V2711M773.4 2699V2711M924.1 2699V2711M1074.8 2699V2711M1225.5 2699V2711M1376.2 2699V2711M1526.9 2699V2711"/>
<text class="pr" x="470" y="2706" text-anchor="end">5'</text>
<text class="pr" x="1531" y="2706">3'</text>
<text class="an" x="472" y="2754">0</text>
<text class="an" x="622.7" y="2754">100</text>
<text class="an" x="773.4" y="2754">200</text>
<text class="an" x="924.1" y="2754">300</text>
<text class="an" x="1074.8" y="2754">400</text>
<text class="an" x="1225.5" y="2754">500</text>
<text class="an" x="1376.2" y="2754">600</text>
<text class="an" x="1526.9" y="2754">700</text>
</g>

<g id="axis-gene">
<path class="ax" d="M1684 2699H3043"/>
<path class="tk" d="M1684 2699V2711M1910.5 2699V2711M2137 2699V2711M2363.5 2699V2711M2590 2699V2711M2816.5 2699V2711M3043 2699V2711"/>
<text class="pr" x="1682" y="2706" text-anchor="end">5'</text>
<text class="pr" x="3047" y="2706">3'</text>
<text class="an" x="1684" y="2754">0</text>
<text class="an" x="1910.5" y="2754">3000</text>
<text class="an" x="2137" y="2754">6000</text>
<text class="an" x="2363.5" y="2754">9000</text>
<text class="an" x="2590" y="2754">12000</text>
<text class="an" x="2816.5" y="2754">15000</text>
<text class="an" x="3043" y="2754">18000</text>
</g>

<g id="legend">
<rect class="sw" x="3087" y="50.5" width="93" height="35" fill="url(#g1)"/><text class="lg" x="3190" y="80">Motif 1</text>
<rect class="sw" x="3087" y="94.7" width="93" height="35" fill="url(#g6)"/><text class="lg" x="3190" y="124.2">Motif 6</text>
<rect class="sw" x="3087" y="138.9" width="93" height="35" fill="url(#g12)"/><text class="lg" x="3190" y="168.4">Motif 12</text>
<rect class="sw" x="3087" y="183.1" width="93" height="35" fill="url(#g15)"/><text class="lg" x="3190" y="212.6">Motif 15</text>
<rect class="sw" x="3087" y="227.3" width="93" height="35" fill="url(#g5)"/><text class="lg" x="3190" y="256.8">Motif 5</text>
<rect class="sw" x="3087" y="271.5" width="93" height="35" fill="url(#g14)"/><text class="lg" x="3190" y="301">Motif 14</text>
<rect class="sw" x="3087" y="315.7" width="93" height="35" fill="url(#g11)"/><text class="lg" x="3190" y="345.2">Motif 11</text>
<rect class="sw" x="3087" y="359.9" width="93" height="35" fill="url(#g3)"/><text class="lg" x="3190" y="389.4">Motif 3</text>
<rect class="sw" x="3087" y="404.1" width="93" height="35" fill="url(#g2)"/><text class="lg" x="3190" y="433.6">Motif 2</text>
<rect class="sw" x="3087" y="448.3" width="93" height="35" fill="url(#g7)"/><text class="lg" x="3190" y="477.8">Motif 7</text>
<rect class="sw" x="3087" y="492.5" width="93" height="35" fill="url(#g10)"/><text class="lg" x="3190" y="522">Motif 10</text>
<rect class="sw" x="3087" y="536.7" width="93" height="35" fill="url(#g4)"/><text class="lg" x="3190" y="566.2">Motif 4</text>
<rect class="sw" x="3087" y="580.9" width="93" height="35" fill="url(#g8)"/><text class="lg" x="3190" y="610.4">Motif 8</text>
<rect class="sw" x="3087" y="625.1" width="93" height="35" fill="url(#g9)"/><text class="lg" x="3190" y="654.6">Motif 9</text>
<rect class="sw" x="3087" y="669.3" width="93" height="35" fill="url(#g13)"/><text class="lg" x="3190" y="698.8">Motif 13</text>
<rect class="sw" x="3087" y="785.5" width="93" height="35" fill="url(#gU)"/><text class="lg" x="3190" y="815">UTR</text>
<rect class="sw" x="3087" y="829.5" width="93" height="35" fill="url(#gC)"/><text class="lg" x="3190" y="859">CDS</text>
</g>
</svg>
